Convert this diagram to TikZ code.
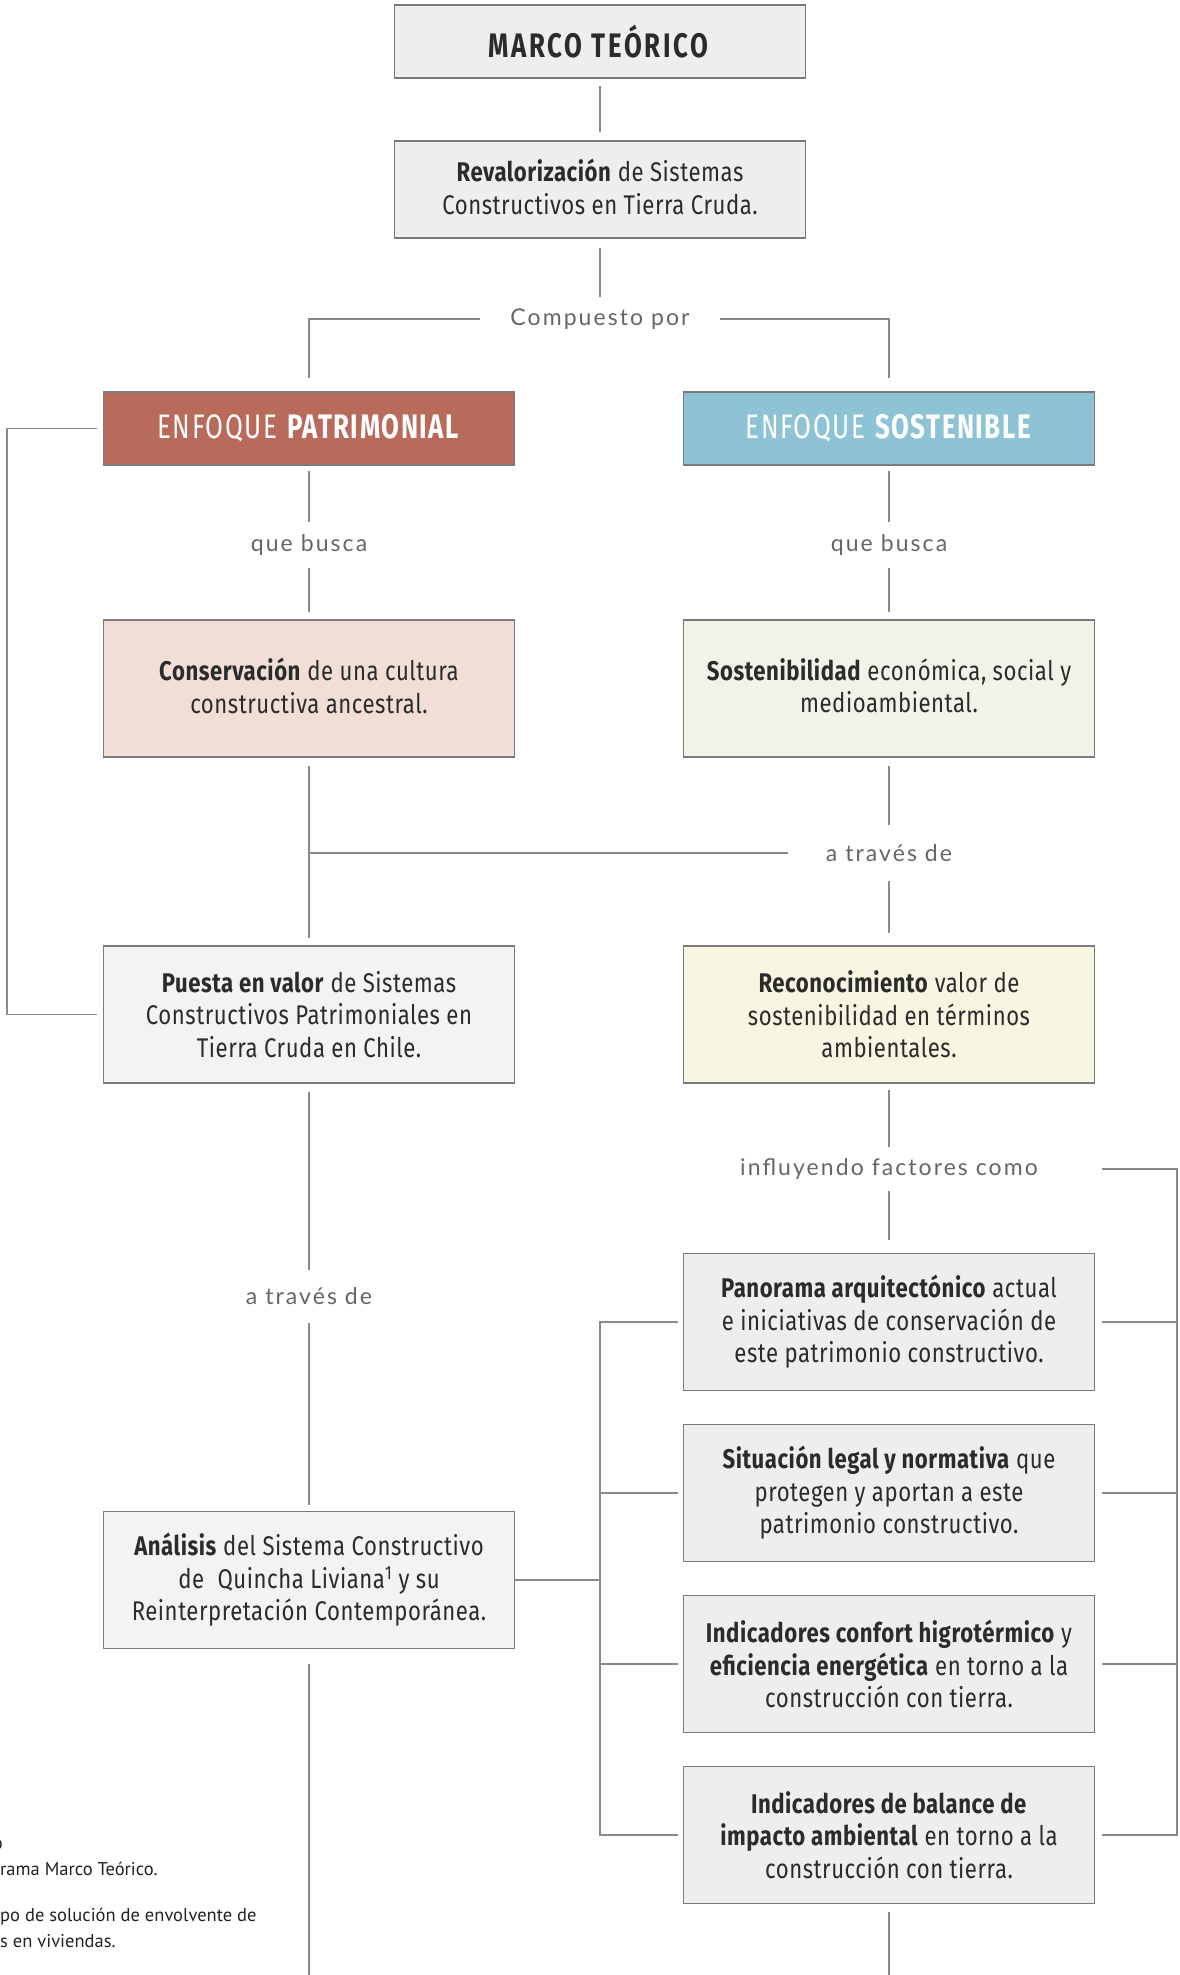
\documentclass[tikz,border=0pt]{standalone}
\usepackage{fontspec}
\newfontfamily\boxfont[FakeStretch=0.82, LetterSpace=2.0]{Fira Sans}
\newfontfamily\headfont[FakeStretch=0.76, LetterSpace=4.5]{Fira Sans}
\newfontfamily\titlefont[FakeStretch=0.76, LetterSpace=8.0]{Fira Sans}
\newfontfamily\lblfont[LetterSpace=9.0]{Lato}
\newfontfamily\notefont{PT Sans}

\definecolor{patfill}{HTML}{B86B5A}
\definecolor{sosfill}{HTML}{8EC3D6}
\definecolor{consfill}{HTML}{F0DED7}
\definecolor{sostfill}{HTML}{F0F3E8}
\definecolor{recfill}{HTML}{F8F6E3}
\definecolor{pvfill}{HTML}{F3F3F1}
\definecolor{grayfill}{HTML}{EEEEEE}
\definecolor{boxline}{HTML}{7A7A7A}
\definecolor{lncol}{HTML}{8A8A8A}
\definecolor{txt}{HTML}{2B2B2B}
\definecolor{lblcol}{HTML}{666666}
\definecolor{notecol}{HTML}{222222}

\tikzset{
  box/.style={draw=boxline, line width=1.6pt, minimum width=411pt, minimum height=137pt,
    inner sep=0pt, outer sep=0pt, align=center, text=txt,
    font=\boxfont\fontsize{27}{32.5}\selectfont},
  headbox/.style={box, minimum height=73pt, font=\headfont\fontsize{34}{40}\selectfont},
  lbl/.style={inner sep=0pt, outer sep=0pt, minimum height=44pt, text=lblcol,
    font=\lblfont\fontsize{23}{28}\selectfont},
  conn/.style={draw=lncol, line width=1.5pt},
  note/.style={anchor=west, inner sep=0pt, text=notecol, font=\notefont\fontsize{18.5}{22}\selectfont}
}

\begin{document}
\begin{tikzpicture}[x=1pt, y=-1pt]
  \fill[white] (0,0) rectangle (1179,1975);
  \useasboundingbox (0,0) rectangle (1179,1975);
  \clip (0,0) rectangle (1179,1975);

  % free ends of the side brackets and the bottom lines
  \coordinate (lb) at (7,0);
  \coordinate (fb) at (600,0);
  \coordinate (rb) at (1177,0);
  \coordinate (bl) at (309,1975);
  \coordinate (br) at (889,1975);

  % title and root
  \node[headbox, fill=grayfill, font=\titlefont\fontsize{34}{40}\selectfont] (marco) at (600,41.5)
    {\textbf{MARCO TEÓRICO}};
  \node[box, fill=grayfill, minimum height=97pt] (reval) at (600,189.5)
    {\textbf{Revalorización} de Sistemas\\Constructivos en Tierra Cruda.\vphantom{g}};
  \node[lbl, minimum width=240pt] (comp) at (600,319) {Compuesto por};

  % the two approaches
  \node[headbox, fill=patfill, text=white] (pat) at (309,428.5) {ENFOQUE \textbf{PATRIMONIAL}};
  \node[headbox, fill=sosfill, text=white] (sos) at (889,428.5) {ENFOQUE \textbf{SOSTENIBLE}};
  \node[lbl, minimum height=46pt] (qb1) at (309,545) {que busca};
  \node[lbl, minimum height=46pt] (qb2) at (889,545) {que busca};
  \node[box, fill=consfill] (cons) at (309,688.5)
    {\textbf{Conservación} de una cultura\\constructiva ancestral.\vphantom{g}};
  \node[box, fill=sostfill] (sost) at (889,688.5)
    {\textbf{Sostenibilidad} económica, social y\\medioambiental.\vphantom{g}};
  \node[lbl, minimum width=202pt, minimum height=56pt] (atr) at (889,853) {a través de};
  \node[box, fill=pvfill] (puesta) at (309,1014.5)
    {\textbf{Puesta en valor} de Sistemas\\Constructivos Patrimoniales en\\Tierra Cruda en Chile.};
  \node[box, fill=recfill] (recon) at (889,1014.5)
    {\textbf{Reconocimiento} valor de\\sostenibilidad en términos\\ambientales.};

  % second level
  \node[lbl, minimum height=53pt] (atr2) at (309,1296) {a través de};
  \node[lbl, minimum width=426pt] (infl) at (889,1169) {influyendo factores como};
  \node[box, fill=pvfill] (anal) at (309,1580)
    {\textbf{Análisis} del Sistema Constructivo\\de\enspace Quincha Liviana\textsuperscript{1} y su\\Reinterpretación Contemporánea.};
  \node[box, fill=grayfill] (pan) at (889,1322)
    {\textbf{Panorama arquitectónico} actual\\e iniciativas de conservación de\\este patrimonio constructivo.};
  \node[box, fill=grayfill] (sit) at (889,1493)
    {\textbf{Situación legal y normativa} que\\protegen y aportan a este\\patrimonio constructivo.};
  \node[box, fill=grayfill] (ind1) at (889,1664)
    {\textbf{Indicadores confort higrotérmico} y\\\textbf{eficiencia energética} en torno a la\\construcción con tierra.};
  \node[box, fill=grayfill] (ind2) at (889,1835)
    {\textbf{Indicadores de balance de}\\\textbf{impacto ambiental} en torno a la\\construcción con tierra.};

  % vertical chain
  \draw[conn, shorten <=8pt, shorten >=9pt] (marco) -- (reval);
  \draw[conn, shorten <=10pt] (reval) -- (comp);
  \draw[conn, shorten >=14pt] (comp.west) -| (pat);
  \draw[conn, shorten >=14pt] (comp.east) -| (sos);
  \draw[conn, shorten <=6pt] (pat) -- (qb1);
  \draw[conn, shorten <=6pt] (sos) -- (qb2);
  \draw[conn, shorten >=8pt] (qb1) -- (cons);
  \draw[conn, shorten >=8pt] (qb2) -- (sost);
  \draw[conn, shorten <=9pt, shorten >=8pt] (cons) -- (puesta);
  \draw[conn] (cons.south |- atr.west) -- (atr.west);
  \draw[conn, shorten <=9pt] (sost) -- (atr);
  \draw[conn, shorten >=13pt] (atr) -- (recon);
  \draw[conn, shorten <=9pt] (puesta) -- (atr2);
  \draw[conn, shorten >=6.5pt] (atr2) -- (anal);
  \draw[conn, shorten <=7pt] (recon) -- (infl);
  \draw[conn, shorten >=14pt] (infl) -- (pan);
  \draw[conn, shorten <=15pt] (anal) -- (bl);
  \draw[conn, shorten <=8pt] (ind2) -- (br);

  % left bracket between the heritage boxes
  \draw[conn] ([xshift=-7pt]pat.west) -- (pat.west -| lb) -- (puesta.west -| lb)
    -- ([xshift=-7pt]puesta.west);

  % bracket joining the analysis to the factors
  \draw[conn] (anal.east) -- (anal.east -| fb);
  \draw[conn] ([xshift=-6pt]pan.west) -- (pan.west -| fb) -- (ind2.west -| fb)
    -- ([xshift=-6pt]ind2.west);
  \draw[conn] ([xshift=-6pt]sit.west) -- (sit.west -| fb);
  \draw[conn] ([xshift=-6pt]ind1.west) -- (ind1.west -| fb);

  % right bracket of the factors
  \draw[conn] (infl.east) -- (infl.east -| rb) -- (ind2.east -| rb)
    -- ([xshift=7pt]ind2.east);
  \draw[conn] ([xshift=7pt]pan.east) -- (pan.east -| rb);
  \draw[conn] ([xshift=7pt]sit.east) -- (sit.east -| rb);
  \draw[conn] ([xshift=7pt]ind1.east) -- (ind1.east -| rb);

  % notes at the lower left edge
  \node[note, anchor=east] (n0) at (3,1845) {o};
  \node[note] (n1) at (0,1869) {rama Marco Teórico.};
  \node[note] (n2) at (0,1917) {po de solución de envolvente de};
  \node[note] (n3) at (0,1941) {s en viviendas.};
\end{tikzpicture}
\end{document}
